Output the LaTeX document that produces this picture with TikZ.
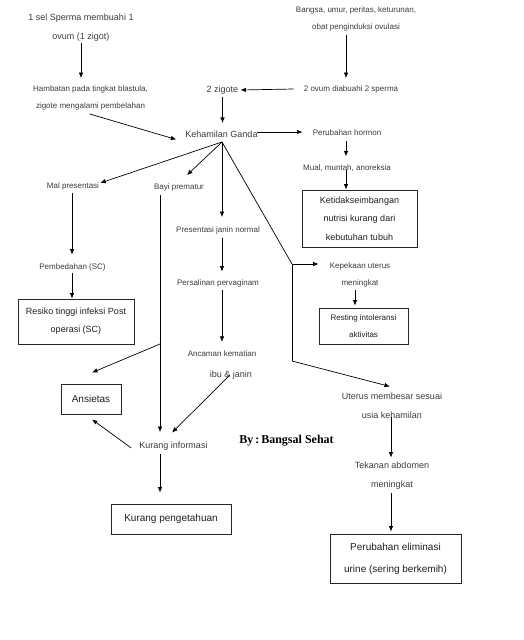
\documentclass[tikz,border=0pt]{standalone}
\usepackage{fontspec}
\setmainfont{Liberation Sans}
\newfontfamily\byfont{Liberation Serif}
\usetikzlibrary{arrows.meta,calc}
\definecolor{tc}{RGB}{58,58,68}
\definecolor{bc}{RGB}{30,30,30}
\tikzset{
  t8/.style={inner sep=0pt, text=tc, align=center, font=\fontsize{8}{17}\selectfont},
  t9/.style={inner sep=0pt, text=tc, align=center, font=\fontsize{9}{19}\selectfont},
  boxnode/.style={draw=black!85, line width=0.9pt, inner sep=0pt, text=bc, align=center},
  arr/.style={-{Latex[length=5.5pt,width=4.5pt]}, line width=0.7pt, black},
  ln/.style={line width=0.7pt, black}
}
\begin{document}
\begin{tikzpicture}[x=1pt,y=-1pt]
\useasboundingbox (0,0) rectangle (523,640);

% texts
\node[t9] (sperma) at (81,27.5) {1 sel Sperma membuahi 1\\ovum (1 zigot)};
\node[t8] (hamb) at (90.5,97.5) {Hambatan pada tingkat blastula,\\zigote mengalami pembelahan};
\node[t9] (zig2) at (222.5,90) {2 zigote};
\node[t9] (keh) at (221.5,134) {Kehamilan Ganda};
\node[t8] (bangsa) at (356,18.5) {Bangsa, umur, peritas, keturunan,\\obat penginduksi ovulasi};
\node[t8] (ovum2) at (351,89) {2 ovum diabuahi 2 sperma};
\node[t8] (hormon) at (347,133) {Perubahan hormon};
\node[t8] (mual) at (347,168) {Mual, muntah, anoreksia};
\node[boxnode, minimum width=115pt, minimum height=57pt, font=\fontsize{9}{18.5}\selectfont] (nutri) at (359.5,218.5) {Ketidakseimbangan\\nutrisi kurang dari\\kebutuhan tubuh};
\node[t8] (kepek) at (360,274.5) {Kepekaan uterus\\meningkat};
\node[boxnode, minimum width=89pt, minimum height=36pt, font=\fontsize{8}{17}\selectfont] (resting) at (363.5,326) {Resting intoleransi\\aktivitas};
\node[t8] (mal) at (73,186) {Mal presentasi};
\node[t8] (bedah) at (72.5,267) {Pembedahan (SC)};
\node[boxnode, minimum width=116pt, minimum height=45pt, font=\fontsize{9}{18}\selectfont] (resiko) at (76,321.5) {Resiko tinggi infeksi Post\\operasi (SC)};
\node[t8] (bayi) at (179,187) {Bayi prematur};
\node[boxnode, minimum width=60pt, minimum height=30pt, font=\fontsize{10}{12}\selectfont] (ansietas) at (91,399) {Ansietas};
\node[t9] (kurinf) at (173.5,446) {Kurang informasi};
\node[boxnode, minimum width=120pt, minimum height=30pt, font=\fontsize{10}{12}\selectfont] (kurpeng) at (171,519) {Kurang pengetahuan};
\node[t8] (presnorm) at (218,230) {Presentasi janin normal};
\node[t8] (persal) at (218,283) {Persalinan pervaginam};
\node[t8] (ancam) at (222,354) {Ancaman kematian};
\node[t9] (ibu) at (231,375) {ibu \& janin};
\node[t9] (uterus) at (392,405.5) {Uterus membesar sesuai\\usia kehamilan};
\node[t9] (tekanan) at (392,475.5) {Tekanan abdomen\\meningkat};
\node[boxnode, minimum width=131pt, minimum height=49pt, font=\fontsize{10}{22}\selectfont] (elim) at (395.5,558.5) {Perubahan eliminasi\\urine (sering berkemih)};
\node[inner sep=0pt, text=black, font=\byfont\bfseries\fontsize{12}{14}\selectfont] (by) at (286.5,441) {By\,:\,Bangsal Sehat};

% helper coordinates
\coordinate (apex) at (222,142);
\coordinate (k1) at (292,264);
\coordinate (k2) at (292,361);
\coordinate (b1) at (160,195);
\coordinate (b2) at (160,344);

% connectors
\draw[arr, shorten <=2pt, shorten >=7pt] (sperma.south) -- (sperma.south |- hamb.north);
\draw[arr] ([xshift=-1pt,yshift=-4pt]hamb.south) -- ([xshift=-9pt,yshift=-2pt]keh.south west);
\draw[arr] ([xshift=-10pt]ovum2.west) -- ([xshift=2pt]zig2.east);
\draw[arr, shorten <=4pt, shorten >=7pt] ([xshift=-10pt]bangsa.south) -- ([xshift=-10pt]bangsa.south |- ovum2.north);
\draw[arr, shorten <=3pt, shorten >=7.5pt] (zig2.south) -- (zig2.south |- keh.north);
\draw[arr, shorten <=-0.5pt, shorten >=10pt] ([yshift=2pt]keh.east) -- ([yshift=2pt]keh.east -| hormon.west);
\draw[arr, shorten <=5pt, shorten >=8pt] ([xshift=-1pt]hormon.south) -- ([xshift=-1pt]hormon.south |- mual.north);
\draw[arr] ([xshift=-1pt,yshift=-2pt]mual.center) -- ([xshift=-1pt]mual.center |- nutri.north);
\draw[arr] (apex) -- ([xshift=1pt,yshift=3pt]mal.east);
\draw[arr] (apex) -- ([xshift=8pt,yshift=8pt]bayi.north);
\draw[arr, shorten >=9pt] (apex) -- (apex |- presnorm.north);
\draw[ln] (apex) -- (k1);
\draw[arr, shorten >=11pt] (k1) -- (k1 -| kepek.west);
\draw[ln] (k1) -- (k2);
\draw[arr] (k2) -- ([xshift=-2pt,yshift=6pt]uterus.north);
\draw[arr, shorten <=3pt, shorten >=2pt] ([xshift=-5pt]kepek.south) -- ([xshift=-5pt]kepek.south |- resting.north);
\draw[arr, shorten <=3.5pt, shorten >=8.5pt] ([xshift=-1pt]mal.south) -- ([xshift=-1pt]mal.south |- bedah.north);
\draw[arr, shorten <=2pt] ([xshift=-0.5pt]bedah.south) -- ([xshift=-0.5pt]bedah.south |- resiko.north);
\draw[arr, shorten >=9.5pt] (b1) -- (b1 |- kurinf.north);
\draw[arr] (b2) -- ([xshift=1pt,yshift=11pt]ansietas.north);
\draw[arr] ([xshift=-8pt,yshift=-2pt]kurinf.west) -- ([xshift=1pt,yshift=-5pt]ansietas.south);
\draw[arr, shorten <=4pt, shorten >=11pt] (b1 |- kurinf.south) -- (b1 |- kurpeng.north);
\draw[arr, shorten <=4.5pt, shorten >=7.5pt] (apex |- presnorm.south) -- (apex |- persal.north);
\draw[arr, shorten <=3.5pt, shorten >=9pt] (apex |- persal.south) -- (apex |- ancam.north);
\draw[arr] ([xshift=-1pt]ibu.center) -- ([xshift=-1.5pt,yshift=9pt]kurinf.north);
\draw[arr, shorten <=-2pt, shorten >=4pt] ([xshift=-1pt]uterus.south) -- ([xshift=-1pt]uterus.south |- tekanan.north);
\draw[arr, shorten <=4pt, shorten >=2pt] ([xshift=-1pt]tekanan.south) -- ([xshift=-1pt]tekanan.south |- elim.north);
\end{tikzpicture}
\end{document}
